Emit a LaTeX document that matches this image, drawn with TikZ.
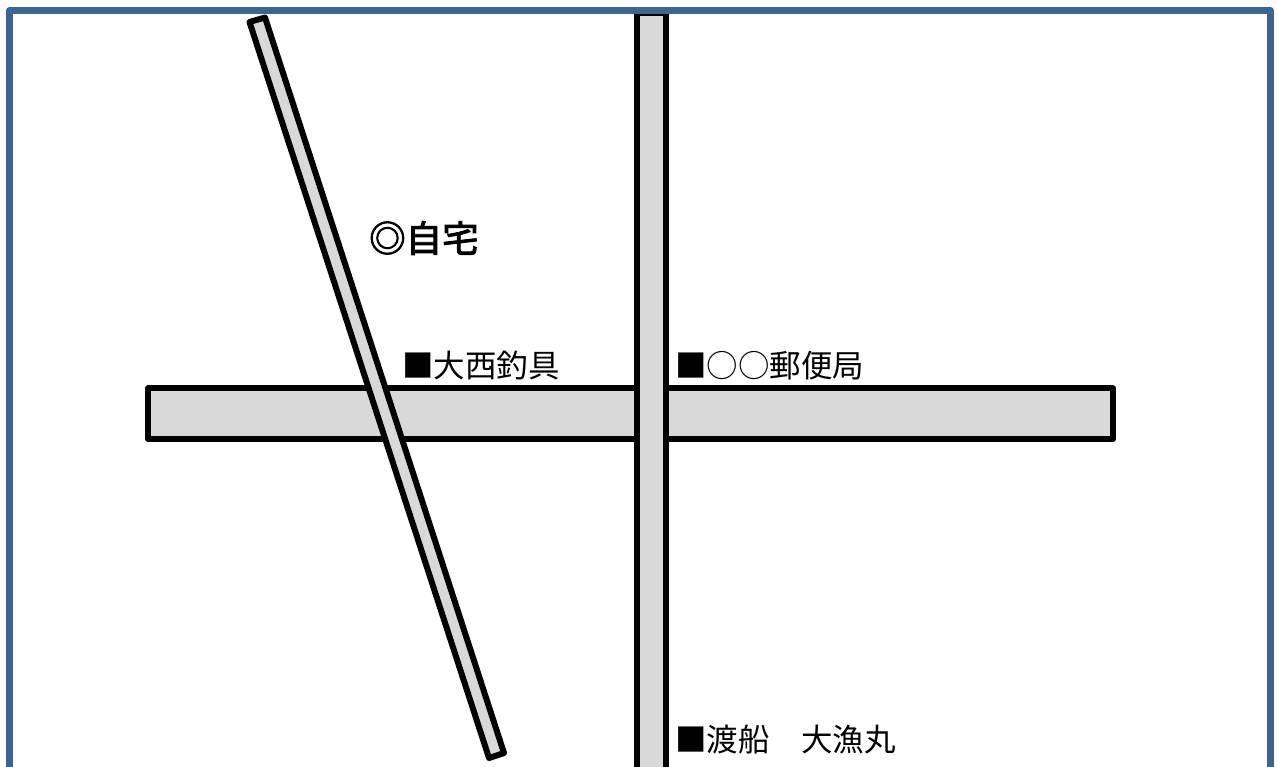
\documentclass[tikz,border=0pt]{standalone}
\usepackage{fontspec}
\newfontfamily\cjk{Noto Sans CJK JP}
\newfontfamily\cjkhome[FakeBold=2.5]{Noto Sans CJK JP}
\tikzset{
  road/.style={draw=black,fill=roadgray,line width=6pt,line join=round},
  place/.style={anchor=west,inner sep=0pt,font=\cjk\fontsize{31.5}{32}\selectfont},
  home/.style={anchor=west,inner sep=0pt,font=\cjkhome\fontsize{36.5}{37}\selectfont}
}
\definecolor{roadgray}{HTML}{D9D9D9}
\definecolor{framecol}{HTML}{3E6592}
\begin{document}
\begin{tikzpicture}[x=1pt,y=-1pt]
\useasboundingbox (0,0) rectangle (1278,767);
\begin{scope}
\clip (0,0) rectangle (1278,767);
\fill[white] (0,0) rectangle (1278,767);
\draw[road] (148,388.5) rectangle (1113,439);
\draw[road] (249.5,22) -- (265,17.5) -- (504,753) -- (489,758) -- cycle;
\draw[road] (637,13) rectangle (665.5,790);
\draw[framecol,line width=6.5pt,line join=round] (9.5,10.5) rectangle (1270.5,790);
\end{scope}
\node[home] (jitaku) at (369,238) {◎自宅};
\node[place] (oonishi) at (402,365.5) {■大西釣具};
\node[place] (yubin) at (675,365.5) {■○○郵便局};
\node[place] (watashi) at (675,739.5) {■渡船　大漁丸};
\end{tikzpicture}
\end{document}
